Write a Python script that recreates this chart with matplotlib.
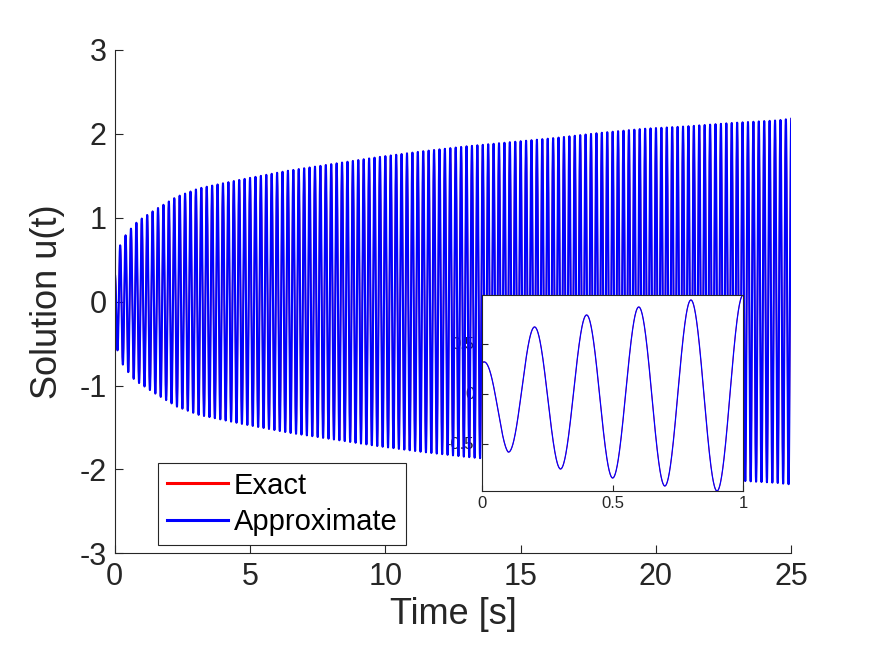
import numpy as np
import matplotlib.pyplot as plt
import matplotlib.transforms as mtransforms

plt.rcParams['font.family'] = ['Liberation Sans', 'DejaVu Sans']
plt.rcParams['axes.unicode_minus'] = False

# amplitude of the oscillation (time in s, amplitude)
env_t = [0.0, 0.1, 0.2, 0.3, 0.4, 0.5, 0.6, 0.7, 0.8, 0.9, 1.0, 1.47, 2.29, 3.11, 4.75,
         6.40, 8.04, 9.68, 11.33, 12.97, 14.61, 16.26, 17.90, 19.54, 21.18, 22.83, 24.47, 25.0]
env_a = [0.31, 0.58, 0.67, 0.75, 0.79, 0.84, 0.87, 0.92, 0.94, 0.97, 0.99, 1.09, 1.25, 1.35, 1.46,
         1.56, 1.64, 1.72, 1.79, 1.85, 1.90, 1.95, 2.01, 2.06, 2.09, 2.13, 2.16, 2.18]
freq = 5.0  # Hz, peaks every 0.2 s

t = np.arange(0, 25.0005, 0.001)
u_exact = np.interp(t, env_t, env_a) * np.cos(2 * np.pi * freq * t)
u_approx = u_exact.copy()

grey = '#262626'

fig = plt.figure(figsize=(8.75, 6.56), dpi=100)
ax = fig.add_axes([0.1311, 0.1566, 0.7732, 0.7672])
ax.plot(t, u_exact, color='red', lw=1.0, label='Exact')
ax.plot(t, u_approx, color='blue', lw=1.5, label='Approximate')
ax.set_xlim(0, 25)
ax.set_ylim(-3, 3)
ax.set_xticks([0, 5, 10, 15, 20, 25])
ax.set_yticks([-3, -2, -1, 0, 1, 2, 3])
ax.spines['top'].set_visible(False)
ax.spines['right'].set_visible(False)
for s in ['left', 'bottom']:
    ax.spines[s].set_color(grey)
ax.tick_params(direction='in', length=6, labelsize=22, colors=grey, pad=6)
ax.set_xlabel('Time [s]', fontsize=26, color=grey, labelpad=4)
ax.set_ylabel('Solution u(t)', fontsize=26, color=grey, labelpad=10)

leg = ax.legend(loc='lower left', bbox_to_anchor=(0.1806, 0.1692), bbox_transform=fig.transFigure,
                fontsize=21, fancybox=False, framealpha=1, edgecolor=grey, borderaxespad=0,
                handlelength=2.1, handletextpad=0.2, borderpad=0.3, labelspacing=0.3)
for line in leg.get_lines():
    line.set_linewidth(2.2)
leg.get_frame().set_linewidth(0.8)

# zoomed view of the first second
ins = fig.add_axes([0.5509, 0.2515, 0.2983, 0.2988])
ins.plot(t, u_exact, color='red', lw=0.6)
ins.plot(t, u_approx, color='blue', lw=0.9)
ins.set_xlim(0, 1)
ins.set_ylim(-0.97, 0.99)
ins.set_xticks([0, 0.5, 1])
ins.set_xticklabels(['0', '0.5', '1'])
ins.set_yticks([-0.5, 0, 0.5])
ins.tick_params(direction='in', length=4, labelsize=12, colors=grey, labelleft=False)
for s in ins.spines.values():
    s.set_color(grey)

# the inset's y tick labels sit under the main curve
trans = mtransforms.blended_transform_factory(ins.transAxes, ins.transData)
for v, lab in zip([-0.5, 0, 0.5], ['-0.5', '0', '0.5']):
    ax.text(-0.03, v, lab, transform=trans, ha='right', va='center', fontsize=12,
            color=grey, zorder=1)

fig.savefig('out.png', dpi=100)
